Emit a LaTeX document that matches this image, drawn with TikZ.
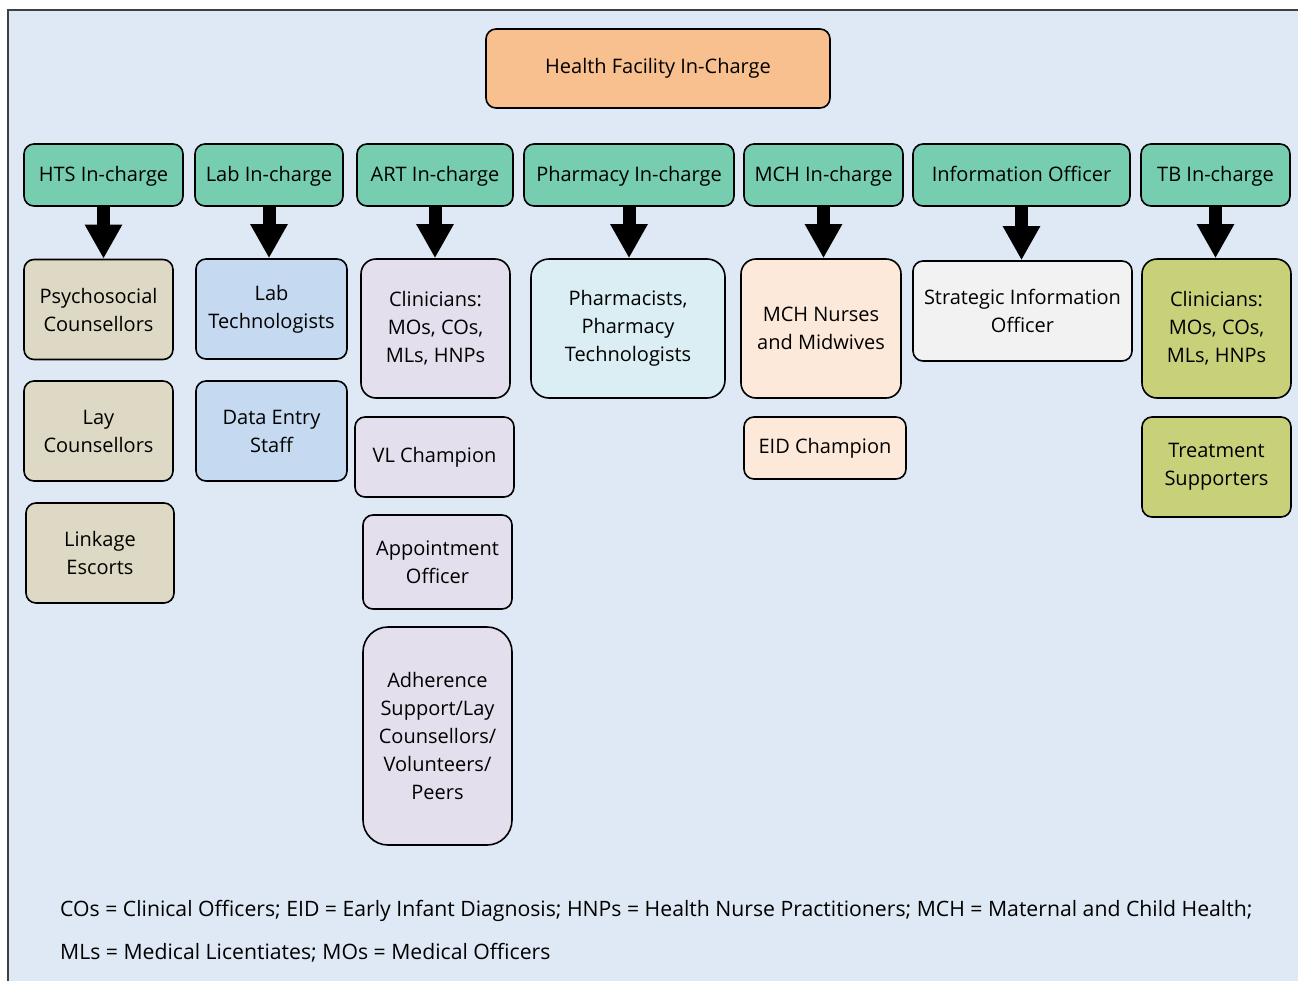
\documentclass[tikz,border=0pt]{standalone}
\usepackage{fontspec}
\setmainfont{Open Sans}
\usetikzlibrary{arrows.meta}

\definecolor{bgblue}{HTML}{DEE9F5}
\definecolor{framegray}{HTML}{404040}
\definecolor{topfill}{HTML}{F8C08F}
\definecolor{leadfill}{HTML}{76CDB0}
\definecolor{tanfill}{HTML}{DDD9C4}
\definecolor{labfill}{HTML}{C5D9F1}
\definecolor{artfill}{HTML}{E4DFEC}
\definecolor{pharfill}{HTML}{DAEEF3}
\definecolor{mchfill}{HTML}{FDE9D9}
\definecolor{infofill}{HTML}{F2F2F2}
\definecolor{tbfill}{HTML}{C8D07A}

\begin{document}
\begin{tikzpicture}[x=1pt, y=-1pt, font=\fontsize{20}{28}\selectfont,
  box/.style={draw=black, line width=1.6pt, rounded corners=10pt, align=center, inner sep=0pt},
  lead/.style={box, fill=leadfill, minimum height=62pt, text height=15pt, text depth=3pt},
  staff/.style={box, fill=#1, minimum height=100pt},
  keytext/.style={anchor=west, inner sep=0pt, font=\fontsize{21.2}{28}\selectfont},
  down/.style={line width=13pt, -{Triangle[width=35pt,length=34pt]}}]

\useasboundingbox (0,0) rectangle (1298,980);
\draw[draw=framegray, line width=1.5pt, fill=bgblue] (8,10) rectangle (1320,1000);

% top
\node[box, fill=topfill, minimum width=344pt, minimum height=79pt] (hfi) at (658,68.5) {Health Facility In-Charge};

% in-charges
\node[lead, minimum width=159pt] (hts) at (103.5,175) {HTS In-charge};
\node[lead, minimum width=148pt] (lab) at (269,175) {Lab In-charge};
\node[lead, minimum width=156pt] (art) at (435,175) {ART In-charge};
\node[lead, minimum width=210pt] (pha) at (629,175) {Pharmacy In-charge};
\node[lead, minimum width=159pt] (mch) at (823.5,175) {MCH In-charge};
\node[lead, minimum width=217pt] (info) at (1021.5,175) {Information Officer};
\node[lead, minimum width=149pt] (tb) at (1215.5,175) {TB In-charge};

% HTS
\node[staff=tanfill, minimum width=149pt] (psy) at (98.5,309.5) {Psychosocial\\Counsellors};
\node[staff=tanfill, minimum width=149pt] (lay) at (98.5,431) {Lay\\Counsellors};
\node[staff=tanfill, minimum width=148pt] (link) at (100,553) {Linkage\\Escorts};

% lab
\node[staff=labfill, minimum width=151pt] (labtech) at (271.5,309) {Lab\\Technologists};
\node[staff=labfill, minimum width=151pt] (entry) at (271.5,431) {Data Entry\\Staff};

% ART
\node[staff=artfill, minimum width=149pt, minimum height=139pt, rounded corners=15pt] (artclin) at (435.5,328.5) {Clinicians:\\MOs, COs,\\MLs, HNPs};
\node[staff=artfill, minimum width=159pt, minimum height=80pt] (vl) at (434.5,457) {VL Champion};
\node[staff=artfill, minimum width=149pt, minimum height=94pt] (appt) at (437.5,562) {Appointment\\Officer};
\node[staff=artfill, minimum width=149pt, minimum height=218pt, rounded corners=25pt] (adh) at (437.5,736) {Adherence\\Support/Lay\\Counsellors/\\Volunteers/\\Peers};

% pharmacy
\node[staff=pharfill, minimum width=194pt, minimum height=139pt, rounded corners=18pt] (phar) at (628,328.5) {Pharmacists,\\Pharmacy\\Technologists};

% MCH
\node[staff=mchfill, minimum width=160pt, minimum height=139pt, rounded corners=15pt] (nurse) at (821,328.5) {MCH Nurses\\and Midwives};
\node[staff=mchfill, minimum width=162pt, minimum height=62pt] (eid) at (825,448) {EID Champion};

% information
\node[staff=infofill, minimum width=219pt] (sio) at (1022.5,311) {Strategic Information\\Officer};

% TB
\node[staff=tbfill, minimum width=149pt, minimum height=139pt, rounded corners=15pt] (tbclin) at (1216.5,328.5) {Clinicians:\\MOs, COs,\\MLs, HNPs};
\node[staff=tbfill, minimum width=149pt] (treat) at (1216.5,467) {Treatment\\Supporters};

% arrows
\draw[down] (hts.south) -- (hts.south |- psy.north);
\draw[down] (lab.south) -- (lab.south |- labtech.north);
\draw[down] (art.south) -- (art.south |- artclin.north);
\draw[down] (pha.south) -- (pha.south |- phar.north);
\draw[down] (mch.south) -- (mch.south |- nurse.north);
\draw[down] (info.south) -- (info.south |- sio.north);
\draw[down] (tb.south) -- (tb.south |- tbclin.north);

% key
\node[keytext] (key1) at (60,911) {COs = Clinical Officers; EID = Early Infant Diagnosis; HNPs = Health Nurse Practitioners; MCH = Maternal and Child Health;};
\node[keytext] (key2) at (60,953) {MLs = Medical Licentiates; MOs = Medical Officers};

\end{tikzpicture}
\end{document}
